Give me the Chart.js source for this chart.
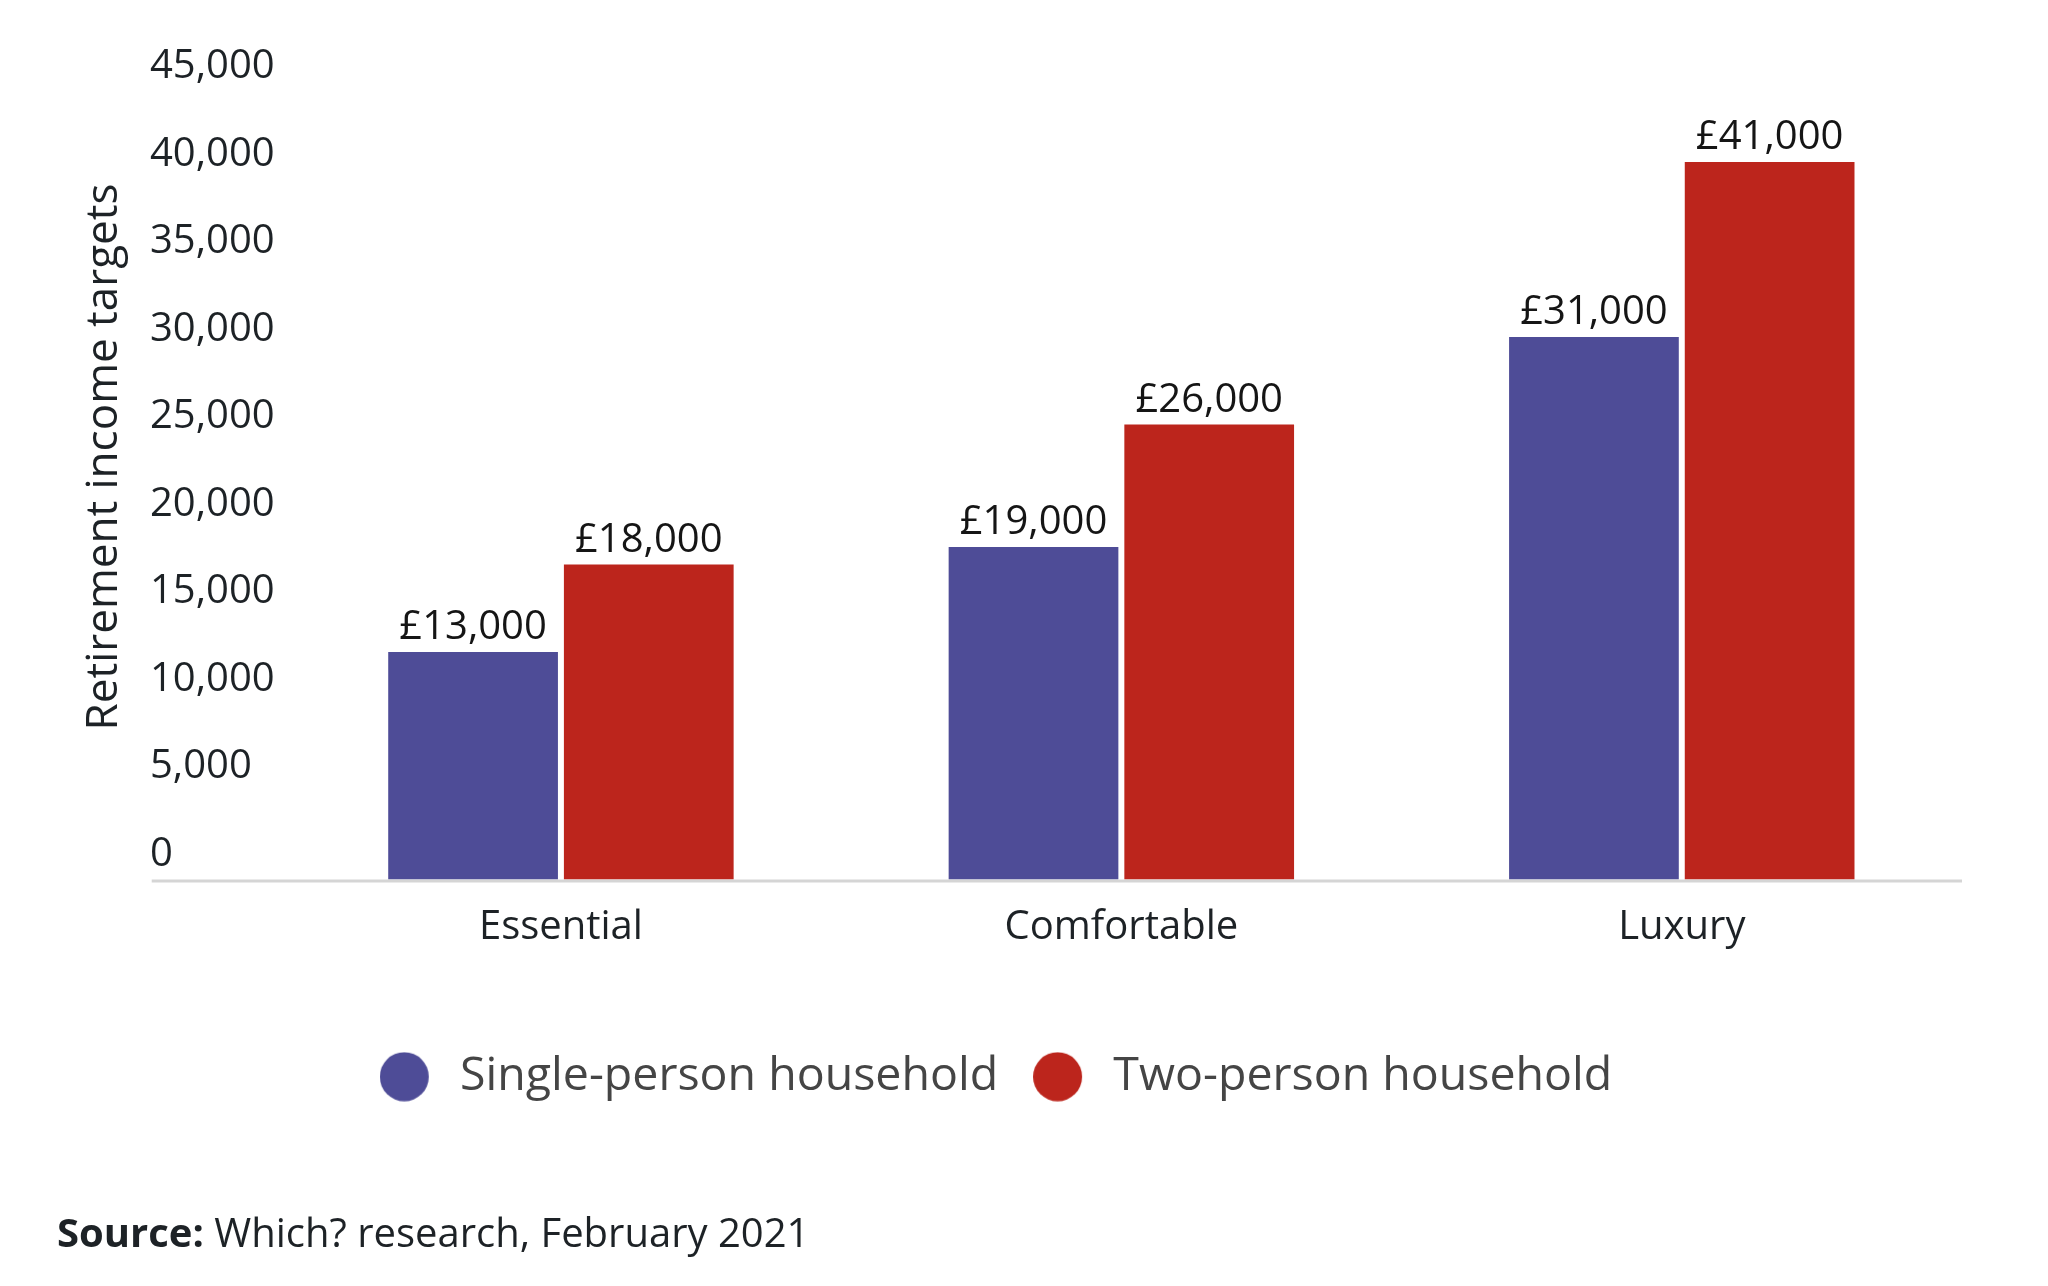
<!DOCTYPE html>
<html lang="en">
<head>
<meta charset="UTF-8">
<title>Retirement income targets</title>
<style>
  body { margin: 0; background: #fff; font-family: 'Open Sans', sans-serif; }
  .wrap { position: relative; width: 2048px; height: 1286px; }
  #chart { position: absolute; left: 0; top: 0; }
  .source { position: absolute; left: 57px; top: 1212px; font-size: 40px; line-height: 1; color: #1d2226; }
  .source b { font-weight: 700; }
</style>
<script src="https://cdn.jsdelivr.net/npm/chart.js"></script>
</head>
<body>
<div class="wrap">
  <canvas id="chart" width="2048" height="1286"></canvas>
  <div class="source"><b>Source:</b> Which? research, February 2021</div>
</div>
<script>
const categories = ['Essential', 'Comfortable', 'Luxury'];
const seriesNames = ['Single-person household', 'Two-person household'];
const singleValues = [13000, 19000, 31000];
const twoValues = [18000, 26000, 41000];
const yTicks = [0, 5000, 10000, 15000, 20000, 25000, 30000, 35000, 40000, 45000];
const yTitle = 'Retirement income targets';

const blue = '#4e4c97';
const red = '#bc251c';
const textDark = '#1d2226';

// legend dot with a bit of blank space on its right (gap before the text)
function legendDot(color) {
  const c = document.createElement('canvas');
  c.width = 57;
  c.height = 50;
  const g = c.getContext('2d');
  g.fillStyle = color;
  g.beginPath();
  g.arc(24.5, 25, 24.5, 0, Math.PI * 2);
  g.fill();
  return c;
}
const dots = [legendDot(blue), legendDot(red)];

// £ labels above each bar
const barLabels = {
  id: 'barLabels',
  afterDatasetsDraw(chart) {
    const ctx = chart.ctx;
    ctx.save();
    ctx.font = '40px "Open Sans"';
    ctx.fillStyle = '#151515';
    ctx.textAlign = 'center';
    ctx.textBaseline = 'alphabetic';
    chart.data.datasets.forEach((ds, i) => {
      chart.getDatasetMeta(i).data.forEach((bar, j) => {
        ctx.fillText('£' + ds.data[j].toLocaleString('en-GB'), bar.x, bar.y - 13);
      });
    });
    ctx.restore();
  }
};

// grey base line (runs under the y tick labels too) and the rotated y title
const axisDecor = {
  id: 'axisDecor',
  afterLayout(chart) {
    // centre the legend on the page rather than on the padded box
    chart.legend.left -= 60;
    chart.legend.right -= 60;
  },
  beforeDatasetsDraw(chart) {
    const { ctx, chartArea, scales } = chart;
    const y = scales.y.getPixelForValue(0);
    ctx.save();
    ctx.strokeStyle = '#d5d5d5';
    ctx.lineWidth = 3;
    ctx.beginPath();
    ctx.moveTo(chartArea.left - 129, y + 1.5);
    ctx.lineTo(chartArea.right, y + 1.5);
    ctx.stroke();

    ctx.translate(117, 457);
    ctx.rotate(-Math.PI / 2);
    ctx.font = '44px "Open Sans"';
    ctx.fillStyle = textDark;
    ctx.textAlign = 'center';
    ctx.textBaseline = 'alphabetic';
    ctx.fillText(yTitle, 0, 0);
    ctx.restore();
  }
};

new Chart(document.getElementById('chart'), {
  type: 'bar',
  data: {
    labels: categories,
    datasets: [
      { label: seriesNames[0], data: singleValues, backgroundColor: blue },
      { label: seriesNames[1], data: twoValues, backgroundColor: red }
    ]
  },
  options: {
    responsive: false,
    animation: false,
    layout: { padding: { left: 150, right: 86, top: 92, bottom: 176 } },
    datasets: {
      bar: { barPercentage: 0.966, categoryPercentage: 0.627, borderWidth: 0 }
    },
    plugins: {
      tooltip: { enabled: false },
      legend: {
        position: 'bottom',
        labels: {
          usePointStyle: true,
          pointStyleWidth: 57,
          boxHeight: 34,
          padding: 35,
          color: '#454545',
          font: { family: 'Open Sans', size: 46.5 },
          generateLabels: chart =>
            Chart.defaults.plugins.legend.labels.generateLabels(chart)
              .map((item, i) => Object.assign(item, { pointStyle: dots[i] }))
        }
      }
    },
    scales: {
      x: {
        grid: { display: false },
        border: { display: false },
        afterFit: s => { s.height += 51; },
        ticks: { color: textDark, padding: 16, font: { family: 'Open Sans', size: 40 } }
      },
      y: {
        min: 0,
        max: 45000,
        grid: { display: false, drawTicks: false },
        border: { display: false },
        afterBuildTicks: axis => { axis.ticks = yTicks.map(v => ({ value: v })); },
        ticks: {
          crossAlign: 'far',
          labelOffset: -25,
          padding: 3,
          color: textDark,
          font: { family: 'Open Sans', size: 40 },
          callback: v => v.toLocaleString('en-GB')
        }
      }
    }
  },
  plugins: [axisDecor, barLabels]
});
</script>
</body>
</html>
